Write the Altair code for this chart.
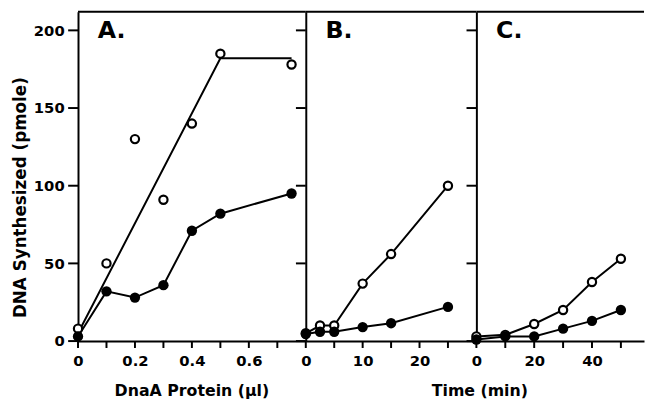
import altair as alt
import pandas as pd

# ---------------- data ----------------
# Panel A: DNA synthesized vs DnaA protein (ul)
a_x = [0, 0.1, 0.2, 0.3, 0.4, 0.5, 0.75]
a_open = [8, 50, 130, 91, 140, 185, 178]
a_filled = [3, 32, 28, 36, 71, 82, 95]
a_fit_x = [0, 0.5, 0.75]
a_fit_y = [5, 182, 182]

# Panel B: time course (min)
b_x = [0, 2.5, 5, 10, 15, 25]
b_open = [5, 10, 10, 37, 56, 100]
b_filled = [4.5, 6, 6, 9, 11.5, 22]

# Panel C: time course (min)
c_x = [0, 10, 20, 30, 40, 50]
c_open = [3, 4, 11, 20, 38, 53]
c_filled = [1, 3, 3, 8, 13, 20]

panel_labels = ["A.", "B.", "C."]
y_ticks = [0, 50, 100, 150, 200]
a_ticks = [0, 0.1, 0.2, 0.3, 0.4, 0.5, 0.6, 0.7]
a_labels = [0, 0.2, 0.4, 0.6]
b_ticks = [0, 5, 10, 15, 20, 25]
b_labels = [0, 10, 20]
c_ticks = [0, 10, 20, 30, 40, 50]
c_labels = [0, 20, 40]

FONT = "DejaVu Sans"
H = 334
Y_DOMAIN = [0, 212]
YTICK = 10
XTICK = 7


def x_enc(x_domain, ticks, labels, fmt, x_title, title_x):
    return alt.X(
        "x:Q",
        scale=alt.Scale(domain=x_domain, nice=False, zero=False),
        axis=alt.Axis(
            values=ticks,
            labelExpr=f"indexof({labels}, datum.value) >= 0 ? datum.label : ''",
            format=fmt,
            ticks=False,
            labelPadding=XTICK + 6,
            labelFlush=False,
            labelOverlap=False,
            title=x_title if x_title else None,
            titleX=title_x, titleAlign="center", titlePadding=14,
            titleFontSize=16,
        ),
    )


def y_enc(first):
    if first:
        axis = alt.Axis(values=y_ticks, ticks=False, labelPadding=YTICK + 4,
                        title="DNA Synthesized (pmole)", titleAngle=-90,
                        titleX=-58, titleY=188, titleAlign="center",
                        titleBaseline="middle", titleFontSize=17)
    else:
        axis = alt.Axis(values=y_ticks, ticks=False, labels=False, title=None)
    return alt.Y("y:Q", scale=alt.Scale(domain=Y_DOMAIN, nice=False), axis=axis)


def panel(px, popen, pfilled, line_x_open, line_y_open, x_domain, ticks, labels,
          fmt, width, label, first, x_title, title_x):
    line_df = pd.DataFrame({
        "x": list(line_x_open) + list(px),
        "y": list(line_y_open) + list(pfilled),
        "grp": ["open"] * len(line_x_open) + ["filled"] * len(px),
    })
    open_df = pd.DataFrame({"x": px, "y": popen})
    filled_df = pd.DataFrame({"x": px, "y": pfilled})

    def X():
        return x_enc(x_domain, ticks, labels, fmt, x_title, title_x)

    def Y():
        return y_enc(first)

    lines = alt.Chart(line_df).mark_line(color="black", strokeWidth=2).encode(
        x=X(), y=Y(), detail="grp:N")
    opens = alt.Chart(open_df).mark_point(
        shape="circle", filled=True, fill="white", stroke="black",
        strokeWidth=2.2, size=70, opacity=1).encode(x=X(), y=Y())
    filleds = alt.Chart(filled_df).mark_circle(
        color="black", size=110, opacity=1).encode(x=X(), y=Y())
    # tick marks drawn through the scales
    ytk = alt.Chart(pd.DataFrame({"y": y_ticks})).mark_rule(
        color="black", strokeWidth=2).encode(
        y=Y(), x=alt.value(-YTICK), x2=alt.value(0))
    xtk = alt.Chart(pd.DataFrame({"x": ticks})).mark_rule(
        color="black", strokeWidth=2).encode(
        x=X(), y=alt.value(H), y2=alt.value(H + XTICK))
    text = alt.Chart(pd.DataFrame({"t": [label]})).mark_text(
        align="left", baseline="alphabetic", font=FONT, fontSize=24,
        fontWeight="bold", color="black").encode(
        x=alt.value(20), y=alt.value(27), text="t:N")
    top = alt.Chart(pd.DataFrame({"t": [label]})).mark_rule(
        color="black", strokeWidth=2).encode(
        x=alt.value(0), x2=alt.value(width), y=alt.value(0))
    return alt.layer(lines, opens, filleds, ytk, xtk, text, top).properties(
        width=width, height=H)


pa = panel(a_x, a_open, a_filled, a_fit_x, a_fit_y, [0, 0.8], a_ticks, a_labels,
           ".1~f", 231, panel_labels[0], True, "DnaA Protein (µl)", 115)
pb = panel(b_x, b_open, b_filled, b_x, b_open, [0, 30], b_ticks, b_labels,
           "d", 173, panel_labels[1], False, "Time (min)", 176)
pc = panel(c_x, c_open, c_filled, c_x, c_open, [0, 58], c_ticks, c_labels,
           "d", 170, panel_labels[2], False, "", 85)

chart = alt.hconcat(pa, pb, pc, spacing=0, bounds="flush").properties(
    padding={"left": 4, "top": 0, "right": 0, "bottom": 0}
).configure_view(stroke=None).configure_axis(
    labelFont=FONT, labelFontSize=15, labelFontWeight="bold", labelColor="black",
    titleFont=FONT, titleFontWeight="bold", titleColor="black",
    domainColor="black", domainWidth=2, grid=False,
)

chart.save("out.html", embed_options={"renderer": "svg", "actions": False})
